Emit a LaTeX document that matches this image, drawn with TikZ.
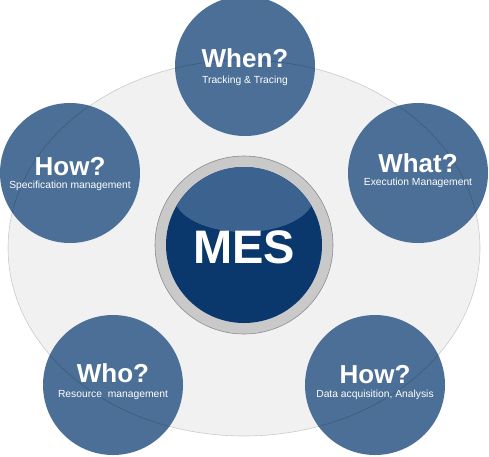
\documentclass[tikz,border=0pt]{standalone}
\usepackage{fontspec}
\setmainfont{Liberation Sans}
\definecolor{bgell}{HTML}{F1F1F1}
\definecolor{circblue}{HTML}{4C6F97}
\definecolor{mesblue}{HTML}{0B386C}
\definecolor{meshi}{HTML}{3C6290}
\definecolor{ringgray}{HTML}{C9C9C9}
\tikzset{
  outer/.style={fill=circblue, draw=none},
  qtitle/.style={anchor=base, text=white, font=\bfseries\fontsize{26}{26}\selectfont, inner sep=0pt},
  qsub/.style={anchor=base, text=white, font=\fontsize{10.3}{10.3}\selectfont, inner sep=0pt},
}
\begin{document}
\begin{tikzpicture}[x=1pt,y=-1pt]
\useasboundingbox (0,0) rectangle (489,456);
\clip (0,0) rectangle (489,456);
% background ellipse
\fill[bgell] (244,248) ellipse [x radius=236pt, y radius=188pt];
% central MES
\fill[ringgray, draw=black!45, line width=0.6pt] (244,245) circle (89pt);
\fill[mesblue] (244,245) circle (78pt);
\begin{scope}
  \clip (244,245) circle (78pt);
  \fill[meshi] (244,196) ellipse [x radius=70pt, y radius=36pt];
\end{scope}
\node[anchor=base, text=white, font=\bfseries\fontsize{47}{47}\selectfont, inner sep=0pt] (mes) at (244,263) {MES};
% outer circles
\fill[outer] (245,66) circle (70pt);
\fill[outer] (70,173) circle (70pt);
\fill[outer] (418,173) circle (70pt);
\fill[outer] (113,385) circle (70pt);
\fill[outer] (375,385) circle (70pt);
% ellipse edge shown through
\draw[black, opacity=0.18, line width=0.6pt] (244,248) ellipse [x radius=236pt, y radius=188pt];
% texts
\node[qtitle] (t1) at (245,67) {When?};
\node[qsub] (s1) at (245,83) {Tracking \& Tracing};
\node[qtitle] (t2) at (70,175) {How?};
\node[qsub] (s2) at (70,188) {Specification management};
\node[qtitle] (t3) at (418,172) {What?};
\node[qsub] (s3) at (418,185) {Execution Management};
\node[qtitle] (t4) at (113,382) {Who?};
\node[qsub] (s4) at (113,397) {Resource\ \ management};
\node[qtitle] (t5) at (375,383) {How?};
\node[qsub] (s5) at (375,397) {Data acquisition, Analysis};
\end{tikzpicture}
\end{document}
